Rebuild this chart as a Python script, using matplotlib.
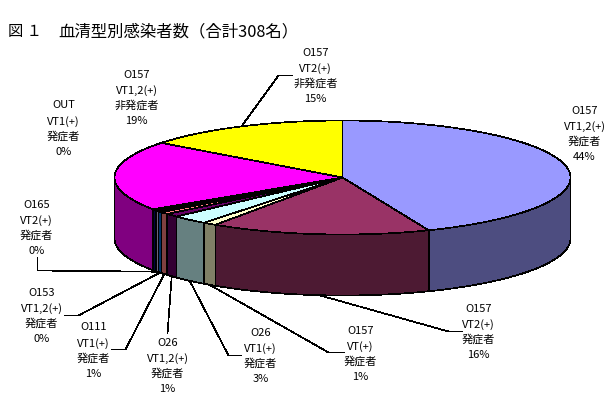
import numpy as np
import matplotlib
matplotlib.use('Agg')
import matplotlib.pyplot as plt
from matplotlib.patches import Polygon

plt.rcParams['font.family'] = ['Noto Sans CJK JP', 'DejaVu Sans']

## data: 308 cases by serotype, clockwise from 12 o'clock
serotypes = ['O157', 'O157', 'O157', 'O26', 'O26', 'O111', 'O153', 'O165', 'OUT', 'O157', 'O157']
toxins = ['VT1,2(+)', 'VT2(+)', 'VT(+)', 'VT1(+)', 'VT1,2(+)', 'VT1(+)', 'VT1,2(+)', 'VT2(+)', 'VT1(+)', 'VT1,2(+)', 'VT2(+)']
status = ['発症者', '発症者', '発症者', '発症者', '発症者', '発症者', '発症者', '発症者', '発症者', '非発症者', '非発症者']
counts = [135, 48, 3, 8, 3, 2, 1, 1, 1, 61, 45]
percents = ['44%', '16%', '1%', '3%', '1%', '1%', '0%', '0%', '0%', '19%', '15%']

## colours (Excel chart palette, sides are the same colour at half value)
top_colors = ['#9999FF', '#993366', '#FFFFCC', '#CCFFFF', '#660066', '#FF8080',
              '#0066CC', '#CCCCFF', '#000080', '#FF00FF', '#FFFF00']
side_colors = ['#4D4D80', '#4D1A33', '#808066', '#668080', '#330033', '#804040',
               '#003366', '#666680', '#000040', '#800080', '#808000']

## layout in pixels
cx, cy, rx, ry, depth = 342, 177, 228, 57, 61
label_x = [584, 478, 360, 260, 167, 93, 41, 36, 63, 136, 315]
label_y = [110, 308, 330, 332, 342, 327, 292, 204, 105, 74, 52]
pitch = 15.6
# bends of the leader lines, None = no leader
bends = [None, [(448, 331), (462, 331)], [(328, 352), (344, 352)], [(228, 355), (241, 355)],
         [(167, 333)], [(125, 349), (111, 349)], [(78, 315), (64, 315)],
         [(37, 270), (37, 257)], None, None, [(278, 75), (292, 75)]]


def rim(t):
    return cx + rx * np.sin(t), cy - ry * np.cos(t)


fig = plt.figure(figsize=(6.1, 4.0), dpi=100)
ax = fig.add_axes([0, 0, 1, 1])
# half pixel shift so whole numbers land on pixel centres
ax.set_xlim(-0.5, 609.5)
ax.set_ylim(399.5, -0.5)
ax.axis('off')

edges = np.cumsum([0] + counts) / sum(counts) * 2 * np.pi

##Sides first, only the front half of the rim shows
for i in range(len(counts)):
    t0 = max(edges[i], np.pi / 2)
    t1 = min(edges[i + 1], 3 * np.pi / 2)
    if t1 <= t0:
        continue
    t = np.linspace(t0, t1, 80)
    x, y = rim(t)
    pts = np.r_[np.c_[x, y], np.c_[x[::-1], y[::-1] + depth]]
    ax.add_patch(Polygon(pts, closed=True, fc=side_colors[i], ec='black', lw=0.5, antialiased=False))

##Top faces
for i in range(len(counts)):
    t = np.linspace(edges[i], edges[i + 1], 120)
    x, y = rim(t)
    pts = np.r_[[[cx, cy]], np.c_[x, y]]
    ax.add_patch(Polygon(pts, closed=True, fc=top_colors[i], ec='black', lw=0.5, antialiased=False))

##Labels and leader lines
for i in range(len(counts)):
    lines = [serotypes[i], toxins[i], status[i], percents[i]]
    for j, s in enumerate(lines):
        ax.text(label_x[i], label_y[i] + j * pitch, s, fontsize=8, ha='center', va='center', color='black')
    if bends[i] is None:
        continue
    mid = (edges[i] + edges[i + 1]) / 2
    x0, y0 = rim(mid)
    if np.pi / 2 < mid < 3 * np.pi / 2:
        y0 += depth
    xs = [x0] + [p[0] for p in bends[i]]
    ys = [y0] + [p[1] for p in bends[i]]
    ax.plot(xs, ys, color='black', lw=0.5, antialiased=False, snap=False)

##Title
ax.text(8, 31, '図 １', fontsize=11, ha='left', va='center')
ax.text(58, 31, '血清型別感染者数（合計308名）', fontsize=11.8, ha='left', va='center')

plt.savefig('out.png', dpi=100)
